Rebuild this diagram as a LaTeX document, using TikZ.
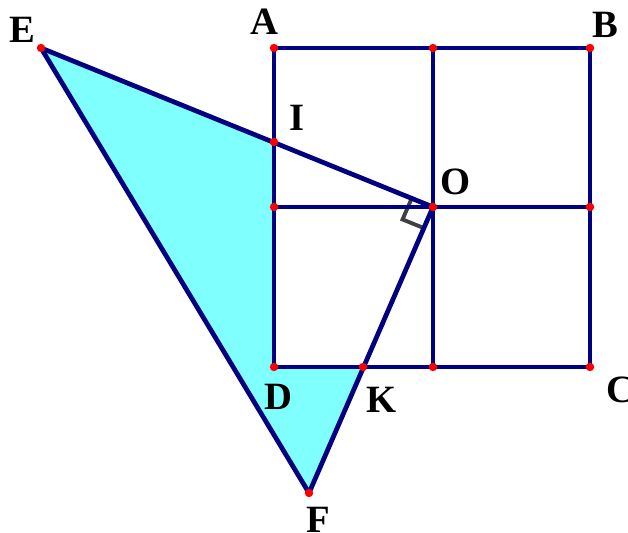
\documentclass[tikz,border=0pt]{standalone}
\usepackage{fontspec}
\setmainfont{Liberation Serif}
\usepackage{tikz}
\usetikzlibrary{calc}
\definecolor{navyline}{RGB}{0,0,128}
\definecolor{cyanfill}{RGB}{128,255,255}
\definecolor{markgray}{RGB}{64,64,64}
\tikzset{
  edge/.style={draw=navyline, line width=2.7pt, line join=round, line cap=round},
  dot/.style={circle, fill=red, inner sep=0pt, minimum size=4.8pt},
  lbl/.style={font=\fontsize{22}{22}\selectfont\bfseries, inner sep=0pt},
  rightmark/.style={draw=markgray, line width=2.2pt}
}

\begin{document}
\begin{tikzpicture}[x=0.02cm, y=-0.02cm]
  \useasboundingbox (0,0) rectangle (628,533);
  % points
  \coordinate (A) at (274,48);
  \coordinate (B) at (590,48);
  \coordinate (C) at (590,367);
  \coordinate (D) at (274,367);
  \coordinate (O) at (433,207);
  \coordinate (E) at (41,48);
  \coordinate (F) at (309,493);
  \coordinate (I) at (274,142);
  \coordinate (K) at (363,367);
  \coordinate (mAB) at (433,48);
  \coordinate (mBC) at (590,207);
  \coordinate (mCD) at (433,367);
  \coordinate (mDA) at (274,207);
  % shaded part
  \fill[cyanfill] (E) -- (I) -- (D) -- (K) -- (F) -- cycle;
  % right angle at O
  \coordinate (rE) at ($(O)!0.46cm!(E)$);
  \coordinate (rF) at ($(O)!0.46cm!(F)$);
  \draw[rightmark] (rE) -- ($(rE)+(rF)-(O)$) -- (rF);
  % square and mid lines
  \draw[edge] (A) -- (B) -- (C) -- (D) -- cycle;
  \draw[edge] (mAB) -- (mCD);
  \draw[edge] (mDA) -- (mBC);
  \draw[edge] (E) -- (O);
  \draw[edge] (O) -- (F);
  \draw[edge] (E) -- (F);
  % red points
  \foreach \p in {A,B,C,D,O,E,F,I,K,mAB,mBC,mCD,mDA}
    \node[dot] at (\p) {};
  % labels
  \node[lbl] (lE) at (22,30) {E};
  \node[lbl] (lA) at (264,22) {A};
  \node[lbl] (lB) at (605,25) {B};
  \node[lbl] (lI) at (297,118) {I};
  \node[lbl] (lO) at (456,182) {O};
  \node[lbl] (lD) at (278,397) {D};
  \node[lbl] (lK) at (382,400) {K};
  \node[lbl] (lC) at (620,390) {C};
  \node[lbl] (lF) at (318,520) {F};
\end{tikzpicture}
\end{document}
